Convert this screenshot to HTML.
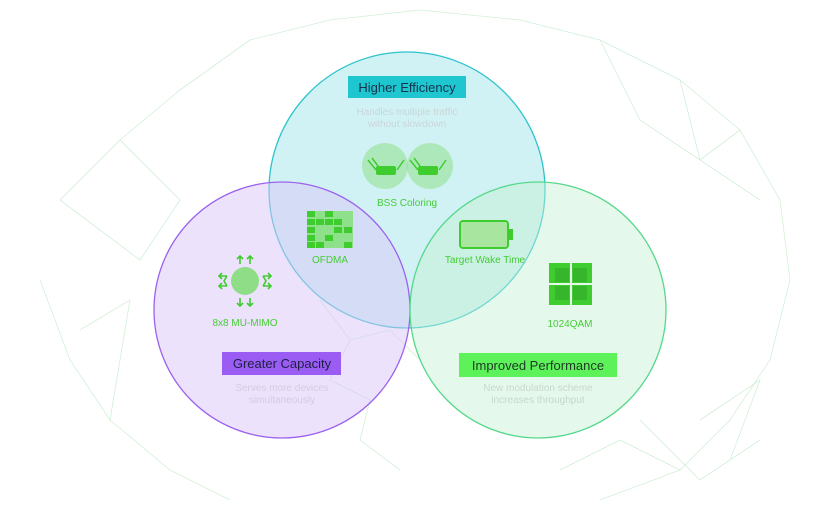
<!DOCTYPE html>
<html><head><meta charset="utf-8"><style>
body{margin:0;background:#fff;width:820px;height:512px;overflow:hidden;font-family:"Liberation Sans",sans-serif}
</style></head><body>
<svg width="820" height="512" viewBox="0 0 820 512" xmlns="http://www.w3.org/2000/svg" font-family="Liberation Sans, sans-serif">
<g stroke="#cdeed3" stroke-width="0.8" fill="none" opacity="0.9">
<path d="M60 200 L120 140 L180 90 L250 40 L330 20 L420 10 L520 20 L600 40 L680 80 L740 130 L780 200 L790 280 L770 360 L730 420 L680 470 L600 500"/>
<path d="M40 280 L70 360 L110 420 L170 470 L230 500"/>
<path d="M120 140 L180 200 L140 260 L60 200 M680 80 L700 160 L760 200 M700 160 L740 130 M600 40 L640 120 L700 160 M700 420 L760 380 L730 460 M80 330 L130 300 L110 420"/>
<path d="M320 300 L350 340 L330 380 L370 400 L360 440 L400 470 M350 340 L390 330 L420 360"/>
<path d="M640 420 L700 480 L760 440 M560 470 L620 440 L680 470"/>
</g>
<circle cx="407" cy="190" r="138" fill="#c6eff2" fill-opacity="0.8" stroke="#2cc3cc" stroke-width="1.3"/>
<circle cx="282" cy="310" r="128" fill="#d9c6f7" fill-opacity="0.5" stroke="#9b62ee" stroke-width="1.3"/>
<circle cx="538" cy="310" r="128" fill="#c4f0d2" fill-opacity="0.45" stroke="#56d88c" stroke-width="1.3"/>
<!-- titles -->
<rect x="348" y="76" width="118" height="22" fill="#1ec6d0"/>
<text x="407" y="92" font-size="13" text-anchor="middle" fill="#17324a">Higher Efficiency</text>
<text x="407" y="115" font-size="10" text-anchor="middle" fill="#c9d6d8">Handles multiple traffic</text>
<text x="407" y="127" font-size="10" text-anchor="middle" fill="#c9d6d8">without slowdown</text>
<rect x="222" y="352" width="119" height="23" fill="#9a5cf3"/>
<text x="282" y="368" font-size="13" text-anchor="middle" fill="#1f1f45">Greater Capacity</text>
<text x="282" y="391" font-size="10" text-anchor="middle" fill="#d3cde0">Serves more devices</text>
<text x="282" y="403" font-size="10" text-anchor="middle" fill="#d3cde0">simultaneously</text>
<rect x="459" y="353" width="158" height="24" fill="#5ef25a"/>
<text x="538" y="370" font-size="13" text-anchor="middle" fill="#1e3a26">Improved Performance</text>
<text x="538" y="391" font-size="10" text-anchor="middle" fill="#c8d8cc">New modulation scheme</text>
<text x="538" y="403" font-size="10" text-anchor="middle" fill="#c8d8cc">increases throughput</text>
<!-- BSS -->
<circle cx="385" cy="166" r="23" fill="#8fe08a" fill-opacity="0.55"/>
<circle cx="430" cy="166" r="23" fill="#8fe08a" fill-opacity="0.55"/>
<rect x="376" y="166" width="20" height="9" rx="2" fill="#3fcc2f"/>
<rect x="418" y="166" width="20" height="9" rx="2" fill="#3fcc2f"/>
<path d="M368 160 L376 170 M372 158 L378 166 M404 160 L397 170 M410 160 L418 170 M414 158 L420 166 M446 160 L439 170" stroke="#3fcc2f" stroke-width="1.5"/>
<text x="407" y="206" font-size="10" text-anchor="middle" fill="#45cc35">BSS Coloring</text>
<!-- OFDMA -->
<g fill="#3fcc2f">
<rect x="307" y="211" width="46" height="37" fill="#8fe08a"/>
<rect x="307" y="211" width="8" height="6"/><rect x="325" y="211" width="8" height="6"/>
<rect x="307" y="219" width="8" height="6"/><rect x="316" y="219" width="8" height="6"/><rect x="325" y="219" width="8" height="6"/><rect x="334" y="219" width="8" height="6"/>
<rect x="307" y="227" width="8" height="6"/><rect x="334" y="227" width="8" height="6"/><rect x="344" y="227" width="8" height="6"/>
<rect x="307" y="235" width="8" height="6"/><rect x="325" y="235" width="8" height="6"/>
<rect x="307" y="242" width="8" height="6"/><rect x="316" y="242" width="8" height="6"/><rect x="344" y="242" width="8" height="6"/>
</g>
<text x="330" y="263" font-size="10" text-anchor="middle" fill="#45cc35">OFDMA</text>
<!-- TWT battery -->
<rect x="460" y="221" width="48" height="27" rx="3" fill="#a8e6a0" stroke="#3fcc2f" stroke-width="2"/>
<rect x="509" y="229" width="4" height="11" fill="#3fcc2f"/>
<text x="485" y="263" font-size="10" text-anchor="middle" fill="#45cc35">Target Wake Time</text>
<!-- 1024QAM -->
<g fill="#3fcc2f"><rect x="549" y="263" width="21" height="20"/><rect x="572" y="263" width="20" height="20"/><rect x="549" y="285" width="21" height="20"/><rect x="572" y="285" width="20" height="20"/></g>
<g fill="#2fa82a" opacity="0.6"><rect x="555" y="268" width="14" height="14"/><rect x="573" y="268" width="14" height="14"/><rect x="555" y="286" width="14" height="14"/><rect x="573" y="286" width="14" height="14"/></g>
<text x="570" y="327" font-size="10" text-anchor="middle" fill="#45cc35">1024QAM</text>
<!-- MU-MIMO -->
<circle cx="245" cy="281" r="14" fill="#8fde87"/>
<g stroke="#3fcc2f" stroke-width="1.6" fill="none">
<path d="M240 264 V256 M237 259 L240 256 L243 259 M250 264 V256 M247 259 L250 256 L253 259"/>
<path d="M240 298 V306 M237 303 L240 306 L243 303 M250 298 V306 M247 303 L250 306 L253 303"/>
<path d="M227 276 H219 M222 273 L219 276 L222 279 M227 286 H219 M222 283 L219 286 L222 289 M227 276 L224 281 L227 286"/>
<path d="M263 276 H271 M268 273 L271 276 L268 279 M263 286 H271 M268 283 L271 286 L268 289 M263 276 L266 281 L263 286"/>
</g>
<text x="245" y="326" font-size="10" text-anchor="middle" fill="#45cc35">8x8 MU-MIMO</text>
</svg>
</body></html>
